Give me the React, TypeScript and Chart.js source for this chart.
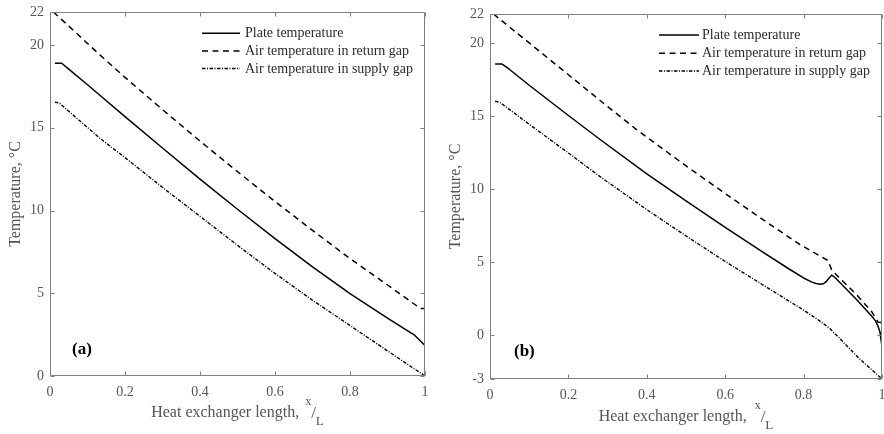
import React, { useEffect, useRef } from "react";
import { Chart, registerables } from "chart.js";

Chart.register(...registerables);

const FONT = "'Liberation Serif', 'Times New Roman', serif";

// ---------- shared labels / ticks ----------
const seriesLabels = [
  "Plate temperature",
  "Air temperature in return gap",
  "Air temperature in supply gap",
];
const xTickValues = [0, 0.2, 0.4, 0.6, 0.8, 1];
const yTickValuesA = [0, 5, 10, 15, 20, 22];
const yTickValuesB = [-3, 0, 5, 10, 15, 20, 22];
const xTitleMain = "Heat exchanger length,";
const xTitleSup = "x";
const xTitleSub = "L";
const yTitle = "Temperature, °C";

// ---------- panel (a) ----------
const plateXA = [0.013, 0.031, 0.05, 0.1, 0.133, 0.2, 0.3, 0.4, 0.5, 0.6, 0.7, 0.8, 0.9, 0.973, 1.0];
const plateYA = [18.9, 18.9, 18.55, 17.6, 16.97, 15.68, 13.78, 11.9, 10.08, 8.3, 6.6, 4.98, 3.5, 2.45, 1.84];

const returnXA = [0.009, 0.05, 0.1, 0.133, 0.2, 0.3, 0.4, 0.5, 0.6, 0.7, 0.8, 0.9, 0.988, 1.0];
const returnYA = [22.0, 21.15, 20.1, 19.41, 18.05, 16.1, 14.2, 12.35, 10.55, 8.8, 7.1, 5.5, 4.08, 4.08];

const supplyXA = [0.013, 0.025, 0.05, 0.1, 0.133, 0.2, 0.3, 0.4, 0.5, 0.6, 0.7, 0.8, 0.9, 1.0];
const supplyYA = [16.55, 16.5, 16.0, 15.02, 14.37, 13.2, 11.4, 9.65, 7.9, 6.2, 4.58, 3.05, 1.52, 0.0];

// ---------- panel (b) ----------
const plateXB = [0.013, 0.031, 0.05, 0.1, 0.2, 0.28, 0.4, 0.5, 0.6, 0.7, 0.765, 0.8, 0.82, 0.832, 0.842, 0.85, 0.857, 0.864, 0.872, 0.88, 0.935, 0.974, 0.983, 0.99, 0.995, 1.0];
const plateYB = [18.57, 18.57, 18.2, 17.12, 15.05, 13.42, 11.05, 9.2, 7.38, 5.62, 4.5, 3.92, 3.65, 3.54, 3.49, 3.52, 3.65, 3.88, 4.12, 3.95, 2.45, 1.3, 1.0, 0.6, 0.2, -0.8];

const returnXB = [0.009, 0.05, 0.1, 0.2, 0.3, 0.374, 0.5, 0.6, 0.7, 0.791, 0.862, 0.872, 0.884, 0.935, 0.974, 0.99, 1.0];
const returnYB = [22.0, 21.1, 20.02, 17.84, 15.66, 14.08, 11.6, 9.7, 7.85, 6.2, 5.12, 4.45, 4.12, 2.78, 1.6, 0.9, 0.85];

const supplyXB = [0.013, 0.025, 0.05, 0.1, 0.2, 0.28, 0.4, 0.5, 0.6, 0.7, 0.765, 0.8, 0.84, 0.859, 0.87, 0.944, 1.0];
const supplyYB = [16.02, 15.95, 15.45, 14.45, 12.48, 10.88, 8.6, 6.8, 5.05, 3.38, 2.3, 1.72, 1.0, 0.62, 0.38, -1.65, -3.0];

// ---------- styles ----------
const lineStyles = [
  { borderDash: [] as number[], borderWidth: 1.5 },
  { borderDash: [6, 4.5], borderWidth: 1.5 },
  { borderDash: [3.5, 1.5, 1, 1.5], borderWidth: 1.4 },
];

const AXIS_COLOR = "#808080";
const TEXT_COLOR = "#555555";
const LEGEND_TEXT = "#2a2a2a";

function toPoints(xs: number[], ys: number[]) {
  return xs.map((x, i) => ({ x, y: ys[i] }));
}

const decorPlugin = {
  id: "panelDecor",
  afterDatasetsDraw(chart: any, _args: any, opts: any) {
    const { ctx, chartArea: a, scales } = chart;
    const xs = scales.x;
    const ys = scales.y;
    const L = Math.round(a.left) + 0.5;
    const R = Math.round(a.right) - 0.5;
    const T = Math.round(a.top) + 0.5;
    const B = Math.round(a.bottom) - 0.5;
    const tl = 4;
    ctx.save();
    ctx.strokeStyle = AXIS_COLOR;
    ctx.lineWidth = 1;
    ctx.setLineDash([]);
    ctx.beginPath();
    ctx.rect(L, T, R - L, B - T);
    for (const v of opts.xTicks) {
      const p = Math.round(xs.getPixelForValue(v)) + 0.5;
      ctx.moveTo(p, B);
      ctx.lineTo(p, B - tl);
      ctx.moveTo(p, T);
      ctx.lineTo(p, T + tl);
    }
    for (const v of opts.yTicks) {
      const p = Math.round(ys.getPixelForValue(v)) + 0.5;
      ctx.moveTo(L, p);
      ctx.lineTo(L + tl, p);
      ctx.moveTo(R, p);
      ctx.lineTo(R - tl, p);
    }
    ctx.stroke();
    ctx.restore();
  },
  afterDraw(chart: any, _args: any, opts: any) {
    const { ctx, chartArea: a } = chart;
    ctx.save();
    // legend
    const lg = opts.legend;
    chart.data.datasets.forEach((ds: any, i: number) => {
      const y = lg.rows[i];
      ctx.strokeStyle = ds.borderColor;
      ctx.lineWidth = ds.borderWidth;
      ctx.setLineDash(ds.borderDash || []);
      ctx.beginPath();
      ctx.moveTo(lg.x1, y);
      ctx.lineTo(lg.x2, y);
      ctx.stroke();
      ctx.setLineDash([]);
      ctx.fillStyle = LEGEND_TEXT;
      ctx.font = `14px ${FONT}`;
      ctx.textAlign = "left";
      ctx.textBaseline = "middle";
      ctx.fillText(ds.label, lg.textX, y + 0.5);
    });
    // panel label
    ctx.fillStyle = "#000";
    ctx.font = `bold 17px ${FONT}`;
    ctx.textAlign = "left";
    ctx.textBaseline = "middle";
    ctx.fillText(opts.panelLabel.text, opts.panelLabel.x, opts.panelLabel.y);
    // x title with super/subscript
    const base = opts.xTitleBaseline;
    const cx = (a.left + a.right) / 2;
    ctx.fillStyle = TEXT_COLOR;
    ctx.textBaseline = "alphabetic";
    ctx.font = `16px ${FONT}`;
    const w1 = ctx.measureText(xTitleMain).width + opts.xTitleGap;
    ctx.font = `12px ${FONT}`;
    const wx = ctx.measureText(xTitleSup).width;
    ctx.font = `17px ${FONT}`;
    const ws = ctx.measureText("/").width;
    ctx.font = `13px ${FONT}`;
    const wL = ctx.measureText(xTitleSub).width;
    let x = cx - (w1 + wx + ws + wL) / 2;
    ctx.font = `16px ${FONT}`;
    ctx.fillText(xTitleMain, x, base);
    x += w1;
    ctx.font = `12px ${FONT}`;
    ctx.fillText(xTitleSup, x, base - 12);
    x += wx;
    ctx.font = `17px ${FONT}`;
    ctx.fillText("/", x, base + 1);
    x += ws;
    ctx.font = `13px ${FONT}`;
    ctx.fillText(xTitleSub, x, base + 8);
    ctx.restore();
  },
};

type PanelProps = {
  series: { x: number[]; y: number[] }[];
  yMin: number;
  yMax: number;
  yTicks: number[];
  padTop: number;
  padRight: number;
  yWidth: number;
  xHeight: number;
  yTitlePad: number;
  legend: { x1: number; x2: number; textX: number; rows: number[] };
  panelLabel: { text: string; x: number; y: number };
  xTitleBaseline: number;
  xTitleGap: number;
};

function Panel(p: PanelProps) {
  const ref = useRef<HTMLCanvasElement | null>(null);
  useEffect(() => {
    if (!ref.current) return;
    const chart = new Chart(ref.current, {
      type: "line",
      data: {
        datasets: p.series.map((s, i) => ({
          label: seriesLabels[i],
          data: toPoints(s.x, s.y),
          borderColor: "#000000",
          borderWidth: lineStyles[i].borderWidth,
          borderDash: lineStyles[i].borderDash,
          borderJoinStyle: "round",
          pointRadius: 0,
          fill: false,
          tension: 0,
        })),
      },
      options: {
        responsive: false,
        maintainAspectRatio: false,
        devicePixelRatio: 1,
        animation: false,
        layout: { padding: { top: p.padTop, right: p.padRight, left: 0, bottom: 0 } },
        scales: {
          x: {
            type: "linear",
            min: 0,
            max: 1,
            grid: { display: false, drawTicks: false },
            border: { display: false },
            afterBuildTicks: (s: any) => {
              s.ticks = xTickValues.map((v) => ({ value: v }));
            },
            afterFit: (s: any) => {
              s.height = p.xHeight;
              s.paddingLeft = 0;
              s.paddingRight = 0;
            },
            ticks: {
              autoSkip: false,
              maxRotation: 0,
              padding: 8,
              color: TEXT_COLOR,
              font: { family: FONT, size: 14 },
              callback: (v: any) => String(Number(Number(v).toFixed(2))),
            },
          },
          y: {
            type: "linear",
            min: p.yMin,
            max: p.yMax,
            grid: { display: false, drawTicks: false },
            border: { display: false },
            afterBuildTicks: (s: any) => {
              s.ticks = p.yTicks.map((v) => ({ value: v }));
            },
            afterFit: (s: any) => {
              s.width = p.yWidth;
              s.paddingTop = 0;
              s.paddingBottom = 0;
            },
            ticks: {
              autoSkip: false,
              padding: 6,
              color: TEXT_COLOR,
              font: { family: FONT, size: 14 },
              callback: (v: any) => String(v),
            },
            title: {
              display: true,
              text: yTitle,
              color: TEXT_COLOR,
              font: { family: FONT, size: 16 },
              padding: { top: p.yTitlePad, bottom: 0 },
            },
          },
        },
        plugins: {
          legend: { display: false },
          tooltip: { enabled: false },
          panelDecor: {
            xTicks: xTickValues,
            yTicks: p.yTicks,
            legend: p.legend,
            panelLabel: p.panelLabel,
            xTitleBaseline: p.xTitleBaseline,
            xTitleGap: p.xTitleGap,
          },
        } as any,
      },
      plugins: [decorPlugin as any],
    });
    return () => chart.destroy();
  }, []);
  return (
    <canvas
      ref={ref}
      width={442}
      height={434}
      style={{ display: "block", width: 442, height: 434 }}
    />
  );
}

export default function App() {
  return (
    <div
      style={{
        position: "fixed",
        left: 0,
        top: 0,
        width: 884,
        height: 434,
        display: "flex",
        background: "#ffffff",
      }}
    >
      <Panel
        series={[
          { x: plateXA, y: plateYA },
          { x: returnXA, y: returnYA },
          { x: supplyXA, y: supplyYA },
        ]}
        yMin={0}
        yMax={22}
        yTicks={yTickValuesA}
        padTop={12}
        padRight={17}
        yWidth={50}
        xHeight={58}
        yTitlePad={6.4}
        legend={{ x1: 202, x2: 240, textX: 245, rows: [33.3, 51, 68.5] }}
        panelLabel={{ text: "(a)", x: 72, y: 349.5 }}
        xTitleBaseline={416.7}
        xTitleGap={6}
      />
      <Panel
        series={[
          { x: plateXB, y: plateYB },
          { x: returnXB, y: returnYB },
          { x: supplyXB, y: supplyYB },
        ]}
        yMin={-3}
        yMax={22}
        yTicks={yTickValuesB}
        padTop={14}
        padRight={2}
        yWidth={48}
        xHeight={55}
        yTitlePad={4.4}
        legend={{ x1: 217, x2: 257, textX: 260, rows: [35, 53.3, 71] }}
        panelLabel={{ text: "(b)", x: 72, y: 351.5 }}
        xTitleBaseline={420.7}
        xTitleGap={8}
      />
    </div>
  );
}
